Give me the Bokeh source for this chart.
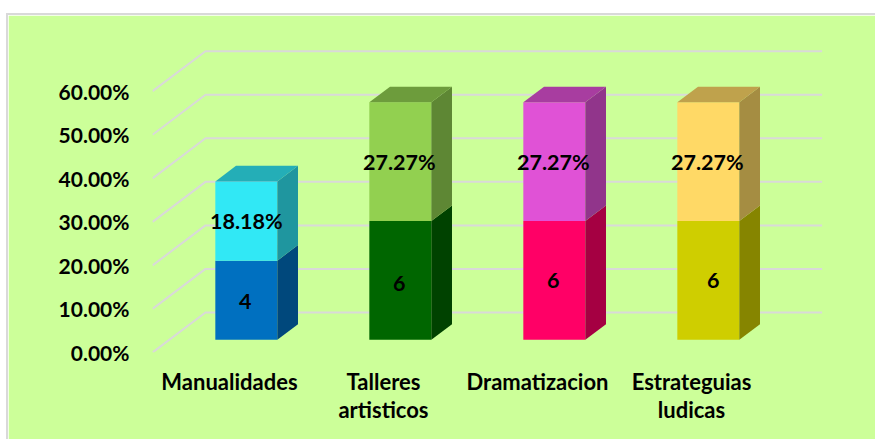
from bokeh.plotting import figure
from bokeh.models import LinearAxis, FixedTicker, PrintfTickFormatter, Range1d, ColumnDataSource
from bokeh.embed import file_html
from bokeh.resources import INLINE
from bokeh.core.properties import value

categories = ["Manualidades", "Talleres\nartisticos", "Dramatizacion", "Estrateguias\nludicas"]
lower_pct = [18.18, 27.27, 27.27, 27.27]
upper_pct = [18.18, 27.27, 27.27, 27.27]
lower_labels = ["4", "6", "6", "6"]
upper_labels = ["18.18%", "27.27%", "27.27%", "27.27%"]
y_ticks = [0, 10, 20, 30, 40, 50, 60]
lower_colors = ["#0070C0", "#006600", "#FF0066", "#CFCE00"]
upper_colors = ["#31E8F5", "#92D050", "#E052D6", "#FFD966"]

BG = "#CCFF99"
GRID = "#D9D9D9"
FONT = "Lato"
PX_X = 154.0    # pixels per category
PX_Y = 4.35     # pixels per percentage point
WALL_DX = 53 / PX_X
WALL_DY = 40 / PX_Y
BAR_W = 62 / PX_X
BAR_FRONT = 0.3175
BAR_DEPTH = 0.39


def shade(c, f):
    r, g, b = int(c[1:3], 16), int(c[3:5], 16), int(c[5:7], 16)
    return "#%02X%02X%02X" % (int(r * f), int(g * f), int(b * f))


def proj(x, v, d):
    return x + d * WALL_DX, v + d * WALL_DY


p = figure(width=867, height=424, output_backend="svg", toolbar_location=None,
           x_range=Range1d(0, 670 / PX_X), y_range=Range1d(0, 306.7 / PX_Y),
           x_axis_type=None, y_axis_type=None, margin=(15, 0, 0, 8),
           min_border_left=144, min_border_right=53, min_border_top=30, min_border_bottom=87,
           background_fill_color=BG, border_fill_color=BG,
           outline_line_color=BG, outline_line_width=2,
           styles={"box-shadow": "-1px -1px 0 1px #D9D9D9"})
p.grid.visible = False

# walls: gridlines run from the front edge to the back plane, then across
gx, gy = [], []
for t in y_ticks:
    bx, by = proj(0, t, 1)
    gx.append([0, bx, 670 / PX_X - 0.002])
    gy.append([t, by, by])
p.multi_line(gx, gy, line_color=GRID, line_width=2)

# bars as oblique prisms
xs, ys, fills = [], [], []
for i in range(4):
    left = i + 0.5 - BAR_W / 2
    right = left + BAR_W
    a, b = lower_pct[i], lower_pct[i] + upper_pct[i]
    for base, top, col, cap in ((0, a, lower_colors[i], False), (a, b, upper_colors[i], True)):
        corners = [proj(left, base, BAR_FRONT), proj(right, base, BAR_FRONT),
                   proj(right, top, BAR_FRONT), proj(left, top, BAR_FRONT)]
        xs.append([c[0] for c in corners]); ys.append([c[1] for c in corners]); fills.append(col)
        fr = BAR_FRONT + BAR_DEPTH
        side = [proj(right, base, BAR_FRONT), proj(right, base, fr),
                proj(right, top, fr), proj(right, top, BAR_FRONT)]
        xs.append([c[0] for c in side]); ys.append([c[1] for c in side]); fills.append(shade(col, 0.65))
        if cap:
            tp = [proj(left, top, BAR_FRONT), proj(right, top, BAR_FRONT),
                  proj(right, top, fr), proj(left, top, fr)]
            xs.append([c[0] for c in tp]); ys.append([c[1] for c in tp]); fills.append(shade(col, 0.75))
p.patches(xs, ys, fill_color=fills, line_color=None)

# data labels (hand-moved in the original, hence the small pixel nudges)
lab_x, lab_y, lab_t, lab_dx, lab_dy = [], [], [], [], []
low_nudge = [(-1, 1), (-1, 3), (-1, 0), (5, 0)]
up_nudge = [(0, 0), (-1, 0), (-1, 0), (-1, 0)]
for i in range(4):
    x, y = proj(i + 0.5, lower_pct[i] / 2, BAR_FRONT)
    lab_x.append(x); lab_y.append(y); lab_t.append(lower_labels[i])
    lab_dx.append(low_nudge[i][0]); lab_dy.append(low_nudge[i][1])
    x, y = proj(i + 0.5, lower_pct[i] + upper_pct[i] / 2, BAR_FRONT)
    lab_x.append(x); lab_y.append(y); lab_t.append(upper_labels[i])
    lab_dx.append(up_nudge[i][0]); lab_dy.append(up_nudge[i][1])
src = ColumnDataSource(dict(x=lab_x, y=lab_y, t=lab_t, dx=lab_dx, dy=lab_dy))
p.text("x", "y", text="t", x_offset="dx", y_offset="dy", source=src, text_align="center",
       text_baseline="middle", text_font=value(FONT), text_font_style="bold",
       text_font_size="21.5px", text_color="black")

yaxis = LinearAxis(ticker=FixedTicker(ticks=y_ticks), formatter=PrintfTickFormatter(format="%.2f%%"))
xaxis = LinearAxis(ticker=FixedTicker(ticks=[0.5, 1.5, 2.5, 3.5]),
                   major_label_overrides={i + 0.5: c for i, c in enumerate(categories)})
for ax in (yaxis, xaxis):
    ax.axis_line_color = None
    ax.major_tick_line_color = None
    ax.minor_tick_line_color = None
    ax.major_tick_in = 0
    ax.major_tick_out = 0
    ax.major_label_text_font = FONT
    ax.major_label_text_font_style = "bold"
    ax.major_label_text_color = "black"
yaxis.major_label_text_font_size = "21px"
xaxis.major_label_text_font_size = "22px"
yaxis.major_label_standoff = 23
xaxis.major_label_standoff = 15
xaxis.major_label_text_line_height = 1.05
p.add_layout(yaxis, "left")
p.add_layout(xaxis, "below")

open("out.html", "w").write(file_html(p, INLINE))
